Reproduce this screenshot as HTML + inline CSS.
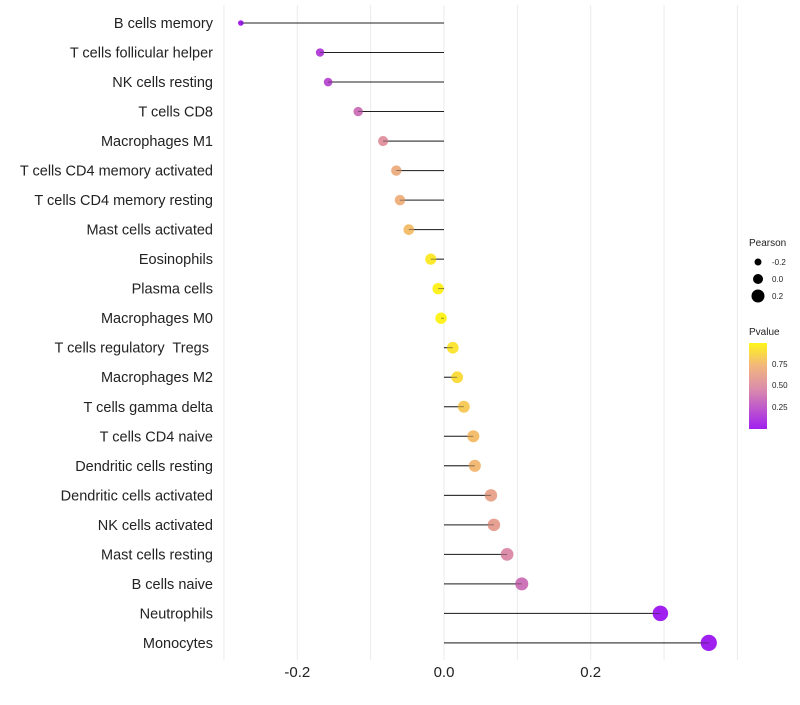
<!DOCTYPE html>
<html><head><meta charset="utf-8"><style>
body{margin:0;background:#fff;font-family:"Liberation Sans",sans-serif}
svg text{font-family:"Liberation Sans",sans-serif}
</style></head><body>
<svg id="c" width="800" height="700"></svg>
<script>
const cells=["B cells memory","T cells follicular helper","NK cells resting","T cells CD8","Macrophages M1","T cells CD4 memory activated","T cells CD4 memory resting","Mast cells activated","Eosinophils","Plasma cells","Macrophages M0","T cells regulatory  Tregs ","Macrophages M2","T cells gamma delta","T cells CD4 naive","Dendritic cells resting","Dendritic cells activated","NK cells activated","Mast cells resting","B cells naive","Neutrophils","Monocytes"];
const pearson=[-0.277,-0.169,-0.158,-0.117,-0.083,-0.065,-0.060,-0.048,-0.018,-0.008,-0.004,0.012,0.018,0.027,0.040,0.042,0.064,0.068,0.086,0.106,0.295,0.361];
const pvalue=[0.03,0.2,0.25,0.4,0.55,0.7,0.72,0.78,0.95,0.98,0.99,0.93,0.9,0.83,0.78,0.76,0.65,0.62,0.5,0.4,0.04,0.03];
const xTicks=[-0.2,0.0,0.2];
const NS="http://www.w3.org/2000/svg";
const svg=document.getElementById('c');
function X(v){return 444+v*733.5;}
function Y(i){return 23+i*29.52;}
function R(v){return 1.1*Math.sqrt(Math.max(2,12.25+(v+0.2)*75));}
const stops=[[0.05,[160,32,240]],[0.5,[219,141,170]],[0.75,[242,183,123]],[1,[255,245,26]]];
function col(p){p=Math.max(0.05,Math.min(1,p));for(let k=1;k<stops.length;k++){if(p<=stops[k][0]){const a=stops[k-1],b=stops[k],t=(p-a[0])/(b[0]-a[0]);return 'rgb('+a[1].map((c,j)=>Math.round(c+(b[1][j]-c)*t)).join(',')+')';}}return 'rgb(255,245,26)';}
function el(t,a,txt){const e=document.createElementNS(NS,t);for(const k in a)e.setAttribute(k,a[k]);if(txt!==undefined)e.textContent=txt;svg.appendChild(e);return e;}
for(let v=-0.3;v<=0.41;v+=0.1){const g=el('line',{x1:X(v),x2:X(v),y1:5,y2:660,stroke:'#ebebeb','stroke-width':1});

}
xTicks.forEach(t=>{const e=el('text',{x:X(t),y:677,'text-anchor':'middle','font-size':15,fill:'#222'},t.toFixed(1));

});
cells.forEach((c,i)=>{
const y=Y(i);
const lb=el('text',{x:213,y:y+5,'text-anchor':'end','font-size':14.5,fill:'#222',style:'white-space:pre'},c);


const ln=el('line',{x1:X(0),x2:X(pearson[i]),y1:y,y2:y,stroke:'#222','stroke-width':1});


const p=el('circle',{cx:X(pearson[i]),cy:y,r:R(pearson[i]),fill:col(pvalue[i])});


const ln2=el('line',{x1:X(0),x2:X(pearson[i]),y1:y,y2:y,stroke:'#222','stroke-width':0.8,'stroke-opacity':0.6});


});
</script>
<svg width="800" height="700" style="position:absolute;left:0;top:0">
<text x="749" y="246" font-size="10" fill="#222">Pearson</text>
<circle cx="758" cy="262" r="3.5" fill="#000"/>
<text x="772" y="265" font-size="8" fill="#222">-0.2</text>
<circle cx="758" cy="279" r="5" fill="#000"/>
<text x="772" y="282" font-size="8" fill="#222">0.0</text>
<circle cx="758" cy="296" r="6.5" fill="#000"/>
<text x="772" y="299" font-size="8" fill="#222">0.2</text>
<text x="749" y="335" font-size="10" fill="#222">Pvalue</text>
<defs><linearGradient id="g" x1="0" y1="1" x2="0" y2="0"><stop offset="0" stop-color="#A020F0"/><stop offset="0.47" stop-color="#DB8DAA"/><stop offset="0.74" stop-color="#F2B77B"/><stop offset="1" stop-color="#FFF51A"/></linearGradient></defs>
<rect x="749" y="343" width="18" height="86" fill="url(#g)"/>
<text x="772" y="367" font-size="8" fill="#222">0.75</text>
<text x="772" y="388" font-size="8" fill="#222">0.50</text>
<text x="772" y="410" font-size="8" fill="#222">0.25</text>
</svg>
</body></html>
